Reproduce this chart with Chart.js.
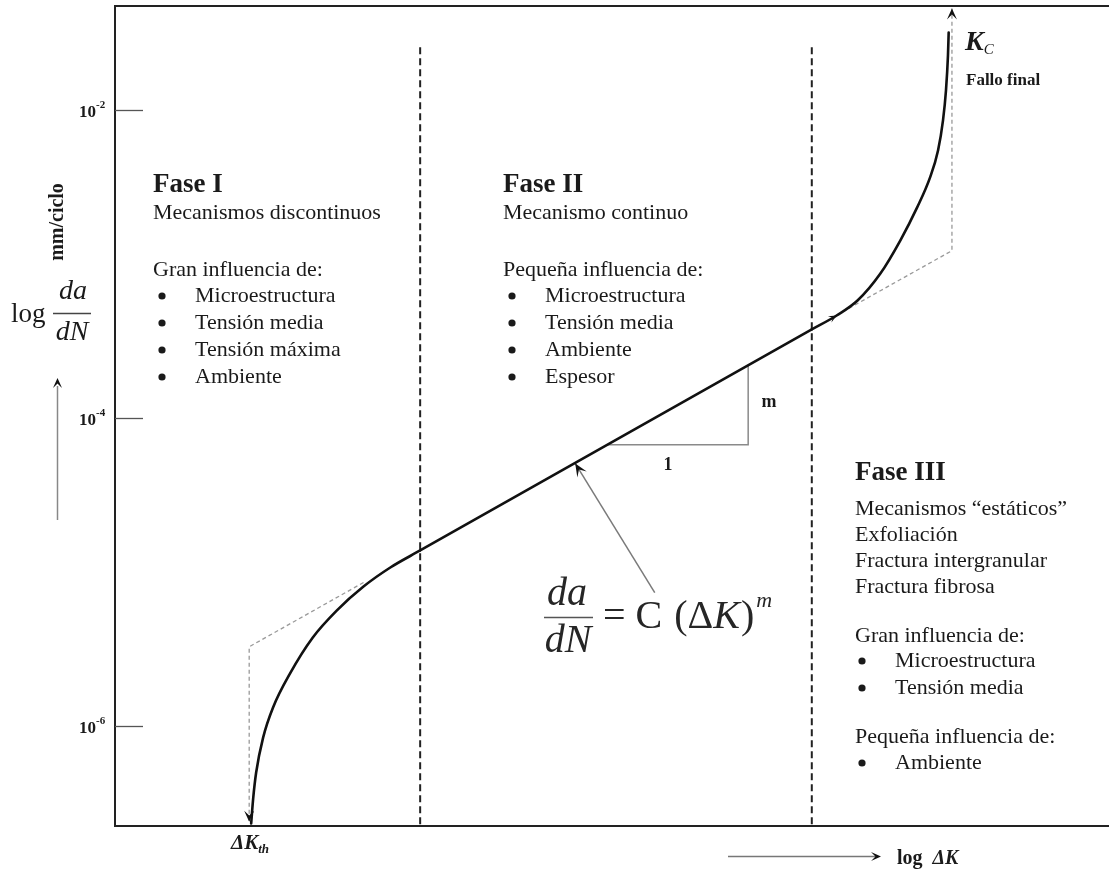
<!DOCTYPE html>
<html>
<head>
<meta charset="utf-8">
<script src="https://cdn.jsdelivr.net/npm/chart.js@4/dist/chart.umd.min.js"></script>
<style>
  html, body { margin: 0; padding: 0; background: #ffffff; }
  #wrap { width: 1109px; height: 881px; position: relative; }
</style>
</head>
<body>
<div id="wrap"><canvas id="chart"></canvas></div>
<script>
// Crack growth curve, log ΔK (arbitrary units) vs da/dN (mm/ciclo)
// Phase I: threshold region
const lowerLogK = [1.37, 1.39, 1.42, 1.49, 1.59, 1.76, 1.99, 2.23, 2.50, 2.77, 3.07];
const lowerRate = [2.33e-7, 3.38e-7, 4.99e-7, 8.41e-7, 1.32e-6, 2.19e-6, 3.76e-6, 5.62e-6, 8.05e-6, 1.07e-5, 1.38e-5];
// Phase II: Paris regime (straight in log-log)
const parisLogK = [3.07, 7.01];
const parisRate = [1.38e-5, 3.76e-4];
// Phase III: unstable growth towards K_C
const upperLogK = [7.01, 7.26, 7.47, 7.70, 7.90, 8.07, 8.20, 8.28, 8.33, 8.36, 8.38, 8.387];
const upperRate = [3.76e-4, 4.63e-4, 5.79e-4, 8.67e-4, 1.42e-3, 2.33e-3, 3.65e-3, 5.46e-3, 8.55e-3, 1.34e-2, 2.26e-2, 3.18e-2];

// Paris-law extension down to the threshold ΔK_th
const thresholdLogK = [2.50, 1.35, 1.35];
const thresholdRate = [8.55e-6, 3.27e-6, 2.36e-7];

// Paris-law extension up to the critical K_C
const criticalLogK = [7.26, 8.42, 8.42];
const criticalRate = [4.65e-4, 1.22e-3, 4.56e-2];

// Boundaries between phases I / II / III
const phaseBoundaryLogK = [3.07, 7.01];
const phaseBoundaryTopRate = 2.55e-2;

// Slope triangle (1 : m)
const slopeLogK = [4.95, 6.37, 6.37];
const slopeRate = [6.7e-5, 6.7e-5, 2.2e-4];

// Pointer from the equation to the straight part
const pointerLogK = [5.43, 4.63];
const pointerRate = [7.36e-6, 5.07e-5];

// Axis range and labelled decades
const logKRange = [0, 10];
const rateRange = [2.244e-7, 4.73e-2];
const yTickValues = [1e-2, 1e-4, 1e-6];

// Text blocks
const phase1Title = 'Fase I';
const phase1Lines = ['Mecanismos discontinuos', '', 'Gran influencia de:'];
const phase1Bullets = ['Microestructura', 'Tensión media', 'Tensión máxima', 'Ambiente'];
const phase2Title = 'Fase II';
const phase2Lines = ['Mecanismo continuo', '', 'Pequeña influencia de:'];
const phase2Bullets = ['Microestructura', 'Tensión media', 'Ambiente', 'Espesor'];
const phase3Title = 'Fase III';
const phase3Lines = ['Mecanismos \u201Cestáticos\u201D', 'Exfoliación', 'Fractura intergranular', 'Fractura fibrosa'];
const phase3Group1 = 'Gran influencia de:';
const phase3Bullets1 = ['Microestructura', 'Tensión media'];
const phase3Group2 = 'Pequeña influencia de:';
const phase3Bullets2 = ['Ambiente'];

const pts = (xs, ys) => xs.map((x, i) => ({ x: x, y: ys[i] }));
const SERIF = '"Liberation Serif", "Times New Roman", serif';
const INK = '#1a1a1a';

function arrowHead(ctx, fx, fy, tx, ty, len, half) {
  const a = Math.atan2(ty - fy, tx - fx);
  ctx.save();
  ctx.translate(tx, ty);
  ctx.rotate(a);
  ctx.beginPath();
  ctx.moveTo(0, 0);
  ctx.lineTo(-len, -half);
  ctx.lineTo(-len * 0.55, 0);
  ctx.lineTo(-len, half);
  ctx.closePath();
  ctx.fill();
  ctx.restore();
}

function runs(ctx, x, y, parts) {
  let cx = x;
  parts.forEach(p => {
    ctx.font = p.font;
    ctx.fillText(p.t, cx, y + (p.dy || 0));
    cx += ctx.measureText(p.t).width + (p.gap || 0);
  });
  return cx;
}

function bullet(ctx, x, y) {
  ctx.beginPath();
  ctx.arc(x, y, 3.6, 0, Math.PI * 2);
  ctx.fill();
}

const decor = {
  id: 'decor',
  afterDatasetsDraw(chart) {
    const ctx = chart.ctx;
    const a = chart.chartArea;
    const xs = chart.scales.x, ys = chart.scales.y;
    ctx.save();

    // frame: left, top and bottom edges
    ctx.strokeStyle = '#222';
    ctx.lineWidth = 2;
    ctx.beginPath();
    ctx.moveTo(a.right, a.top); ctx.lineTo(a.left, a.top);
    ctx.lineTo(a.left, a.bottom); ctx.lineTo(a.right, a.bottom);
    ctx.stroke();

    // decade ticks on the inside of the y axis
    ctx.strokeStyle = '#555';
    ctx.lineWidth = 1.3;
    ctx.fillStyle = INK;
    ctx.textBaseline = 'alphabetic';
    yTickValues.forEach(v => {
      const py = Math.round(ys.getPixelForValue(v)) + 0.5;
      ctx.beginPath(); ctx.moveTo(a.left, py); ctx.lineTo(a.left + 28, py); ctx.stroke();
      const exp = Math.round(Math.log10(v));
      ctx.font = 'bold 17px ' + SERIF;
      ctx.textAlign = 'right';
      ctx.fillText('10', 96, py + 6);
      ctx.textAlign = 'left';
      ctx.font = 'bold 11px ' + SERIF;
      ctx.fillText(String(exp), 96, py - 3);
    });

    // arrowheads at the ends of the guide lines
    ctx.fillStyle = '#111';
    const px = (lx, ly, i) => [xs.getPixelForValue(lx[i]), ys.getPixelForValue(ly[i])];
    let p0 = px(thresholdLogK, thresholdRate, 1), p1 = px(thresholdLogK, thresholdRate, 2);
    arrowHead(ctx, p0[0], p0[1], p1[0], p1[1] - 1, 11, 5);
    p0 = px(criticalLogK, criticalRate, 1); p1 = px(criticalLogK, criticalRate, 2);
    arrowHead(ctx, p0[0], p0[1], p1[0], p1[1], 11, 5);
    p0 = px(pointerLogK, pointerRate, 0); p1 = px(pointerLogK, pointerRate, 1);
    arrowHead(ctx, p0[0], p0[1], p1[0], p1[1], 13, 5.5);
    // small direction mark where phase III leaves the Paris line
    p0 = px(upperLogK, upperRate, 0); p1 = px(upperLogK, upperRate, 1);
    arrowHead(ctx, p0[0], p0[1], p1[0], p1[1], 8, 3.5);

    // phase texts
    ctx.fillStyle = INK;
    ctx.textAlign = 'left';
    ctx.textBaseline = 'middle';
    const block = (x, bx, tx, title, lines, bullets) => {
      ctx.font = 'bold 27px ' + SERIF;
      ctx.fillText(title, x, 185);
      ctx.font = '22px ' + SERIF;
      let y = 213;
      lines.forEach(l => { if (l) ctx.fillText(l, x, y); y += 28.5; });
      y = 296;
      bullets.forEach(b => { bullet(ctx, bx, y); ctx.fillText(b, tx, y); y += 27; });
    };
    block(153, 162, 195, phase1Title, phase1Lines, phase1Bullets);
    block(503, 512, 545, phase2Title, phase2Lines, phase2Bullets);

    ctx.font = 'bold 27px ' + SERIF;
    ctx.fillText(phase3Title, 855, 473);
    ctx.font = '22px ' + SERIF;
    let y3 = 509;
    phase3Lines.forEach(l => { ctx.fillText(l, 855, y3); y3 += 26; });
    ctx.fillText(phase3Group1, 855, 636);
    y3 = 661;
    phase3Bullets1.forEach(b => { bullet(ctx, 862, y3); ctx.fillText(b, 895, y3); y3 += 27; });
    ctx.fillText(phase3Group2, 855, 737);
    y3 = 763;
    phase3Bullets2.forEach(b => { bullet(ctx, 862, y3); ctx.fillText(b, 895, y3); y3 += 27; });

    // slope triangle labels
    ctx.font = 'bold 18px ' + SERIF;
    ctx.textAlign = 'center';
    ctx.fillText('m', 769, 402);
    ctx.fillText('1', 668, 465);

    // Paris law
    ctx.fillStyle = '#262626';
    ctx.font = 'italic 40px ' + SERIF;
    ctx.fillText('da', 567, 594);
    ctx.fillText('dN', 568, 641);
    ctx.strokeStyle = '#555';
    ctx.lineWidth = 1.6;
    ctx.beginPath(); ctx.moveTo(544, 617.5); ctx.lineTo(593, 617.5); ctx.stroke();
    ctx.textAlign = 'left';
    runs(ctx, 603, 617, [
      { t: '=', font: '40px ' + SERIF, gap: 10 },
      { t: 'C', font: '40px ' + SERIF, gap: 12 },
      { t: '(\u0394', font: '40px ' + SERIF },
      { t: 'K', font: 'italic 40px ' + SERIF, gap: 1 },
      { t: ')', font: '40px ' + SERIF, gap: 2 },
      { t: 'm', font: 'italic 22px ' + SERIF, dy: -16 }
    ]);
    ctx.fillStyle = INK;

    // K_C and final failure
    runs(ctx, 965, 43, [
      { t: 'K', font: 'bold italic 28px ' + SERIF },
      { t: 'C', font: 'italic 15px ' + SERIF, dy: 7 }
    ]);
    ctx.font = 'bold 17px ' + SERIF;
    ctx.fillText('Fallo final', 966, 81);

    // ΔK_th
    runs(ctx, 231, 844, [
      { t: '\u0394K', font: 'bold italic 21px ' + SERIF },
      { t: 'th', font: 'bold italic 13px ' + SERIF, dy: 6 }
    ]);

    // x-axis caption with arrow
    ctx.strokeStyle = '#777';
    ctx.lineWidth = 1.5;
    ctx.beginPath(); ctx.moveTo(728, 856.5); ctx.lineTo(876, 856.5); ctx.stroke();
    ctx.fillStyle = '#111';
    arrowHead(ctx, 728, 856.5, 881, 856.5, 10, 4.5);
    ctx.fillStyle = INK;
    runs(ctx, 897, 859, [
      { t: 'log', font: 'bold 20px ' + SERIF, gap: 10 },
      { t: '\u0394K', font: 'bold italic 20px ' + SERIF }
    ]);

    // y-axis caption
    ctx.save();
    ctx.translate(58, 222);
    ctx.rotate(-Math.PI / 2);
    ctx.textAlign = 'center';
    ctx.font = 'bold 20px ' + SERIF;
    ctx.fillText('mm/ciclo', 0, 0);
    ctx.restore();

    ctx.textAlign = 'left';
    ctx.font = '27px ' + SERIF;
    ctx.textBaseline = 'alphabetic';
    ctx.fillText('log', 11, 322);
    ctx.textBaseline = 'middle';
    ctx.textAlign = 'center';
    ctx.font = 'italic 28px ' + SERIF;
    ctx.fillText('da', 73, 292);
    ctx.fillText('dN', 72, 333);
    ctx.strokeStyle = '#444';
    ctx.lineWidth = 1.4;
    ctx.beginPath(); ctx.moveTo(53, 313.5); ctx.lineTo(91, 313.5); ctx.stroke();

    ctx.strokeStyle = '#888';
    ctx.lineWidth = 1.5;
    ctx.beginPath(); ctx.moveTo(57.5, 520); ctx.lineTo(57.5, 386); ctx.stroke();
    ctx.fillStyle = '#111';
    arrowHead(ctx, 57.5, 520, 57.5, 378, 10, 4.5);

    ctx.restore();
  }
};

const curveStyle = { borderColor: '#111', borderWidth: 2.6, pointRadius: 0, borderCapStyle: 'round' };
const datasets = [
  Object.assign({ data: pts(lowerLogK, lowerRate), cubicInterpolationMode: 'monotone' }, curveStyle),
  Object.assign({ data: pts(parisLogK, parisRate), tension: 0 }, curveStyle),
  Object.assign({ data: pts(upperLogK, upperRate), cubicInterpolationMode: 'monotone' }, curveStyle),
  {
    data: pts(thresholdLogK, thresholdRate),
    borderColor: '#9a9a9a', borderWidth: 1.3, borderDash: [4, 3], pointRadius: 0, tension: 0
  },
  {
    data: pts(criticalLogK, criticalRate),
    borderColor: '#9a9a9a', borderWidth: 1.3, borderDash: [4, 3], pointRadius: 0, tension: 0
  },
  {
    data: pts(slopeLogK, slopeRate),
    borderColor: '#8a8a8a', borderWidth: 1.5, pointRadius: 0, tension: 0
  },
  {
    data: pts(pointerLogK, pointerRate),
    borderColor: '#7a7a7a', borderWidth: 1.5, pointRadius: 0, tension: 0
  }
];
phaseBoundaryLogK.forEach(k => {
  datasets.push({
    data: [{ x: k, y: phaseBoundaryTopRate }, { x: k, y: rateRange[0] }],
    borderColor: '#222', borderWidth: 2, borderDash: [7, 4], pointRadius: 0, tension: 0
  });
});

new Chart(document.getElementById('chart'), {
  type: 'line',
  data: { datasets: datasets },
  options: {
    responsive: true,
    maintainAspectRatio: false,
    animation: false,
    events: [],
    layout: { padding: { left: 115, top: 6, right: 0, bottom: 55 } },
    plugins: { legend: { display: false }, tooltip: { enabled: false } },
    scales: {
      x: { type: 'linear', min: logKRange[0], max: logKRange[1], bounds: 'data', display: false },
      y: { type: 'logarithmic', min: rateRange[0], max: rateRange[1], bounds: 'data', display: false }
    }
  },
  plugins: [decor]
});
</script>
</body>
</html>
